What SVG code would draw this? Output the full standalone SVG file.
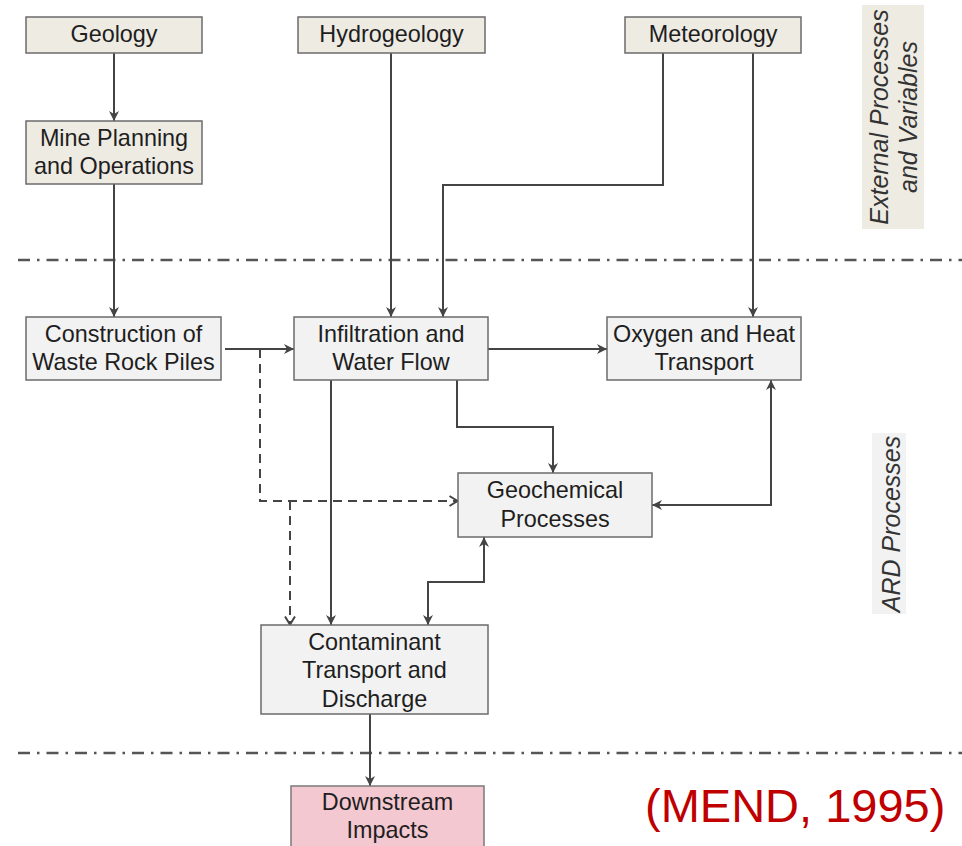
<svg xmlns="http://www.w3.org/2000/svg" width="962" height="846" viewBox="0 0 962 846">
<style>
.ext rect{fill:#eeebe3;stroke:#6b6b6b;stroke-width:1.5}
.ard rect{fill:#f2f2f2;stroke:#6b6b6b;stroke-width:1.5}
.imp rect{fill:#f4c8d1;stroke:#7a7a7a;stroke-width:1.5}
text{font-family:"Liberation Sans",Arial,sans-serif;fill:#1e1e1e}
.n{font-size:23.4px;text-anchor:middle}
.lab{font-size:25px;font-style:italic;text-anchor:middle;fill:#333}
.c path{fill:none;stroke:#444;stroke-width:2}
.c .s{marker-end:url(#ah)}
.c .d{stroke-dasharray:9 6;marker-end:url(#oh)}
.c .b{marker-start:url(#ah);marker-end:url(#ah)}
.sep{stroke:#555;stroke-width:2.5;stroke-dasharray:12 7 2.5 7;fill:none}
</style>
<defs>
<marker id="ah" markerWidth="12" markerHeight="12" refX="11" refY="6" orient="auto-start-reverse" markerUnits="userSpaceOnUse"><path d="M1,1 L11,6 L1,11 L4,6 z" fill="#444"/></marker>
<marker id="oh" markerWidth="12" markerHeight="12" refX="10.5" refY="6" orient="auto" markerUnits="userSpaceOnUse"><path d="M2,1 L10,6 L2,11" fill="none" stroke="#444" stroke-width="2"/></marker>
</defs>
<rect width="962" height="846" fill="#fff"/>
<g id="separators">
<path class="sep" d="M18,260 H962"/>
<path class="sep" d="M18,753 H962"/>
</g>
<g id="label-external">
<rect x="862" y="5" width="62" height="224" fill="#eeebe3"/>
<text class="lab" transform="translate(888,117) rotate(-90)">External Processes</text>
<text class="lab" transform="translate(917,117) rotate(-90)">and Variables</text>
</g>
<g id="label-ard">
<rect x="872" y="433" width="34" height="181" fill="#f2f2f2"/>
<text class="lab" transform="translate(900,524) rotate(-90)">ARD Processes</text>
</g>
<g class="c" id="connectors">
<path class="s" d="M114,53 V121"/>
<path class="s" d="M114,184 V317"/>
<path class="s" d="M391,53 V317"/>
<path class="s" d="M663,53 V185 H443 V317"/>
<path class="s" d="M753,53 V317"/>
<path class="s" d="M225,349 H294"/>
<path class="s" d="M488,349 H607"/>
<path class="d" d="M260,349 V501 H458"/>
<path class="d" d="M290,501 V625"/>
<path class="s" d="M331,380 V625"/>
<path class="s" d="M457,380 V427 H553 V473"/>
<path class="b" d="M771,380 V505 H652"/>
<path class="b" d="M484,537 V582 H428 V625"/>
<path class="s" d="M370,714 V786"/>
</g>
<g id="geology" class="ext"><rect x="26" y="17" width="176" height="36"/><text class="n" x="114" y="42">Geology</text></g>
<g id="hydrogeology" class="ext"><rect x="298" y="17" width="187" height="36"/><text class="n" x="391.5" y="42">Hydrogeology</text></g>
<g id="meteorology" class="ext"><rect x="625" y="17" width="176" height="36"/><text class="n" x="713" y="42">Meteorology</text></g>
<g id="mine-planning" class="ext"><rect x="26" y="121" width="176" height="63"/><text class="n" x="114" y="146">Mine Planning</text><text class="n" x="114" y="174">and Operations</text></g>
<g id="construction" class="ard"><rect x="26" y="317" width="195" height="63"/><text class="n" x="123.5" y="342">Construction of</text><text class="n" x="123.5" y="370">Waste Rock Piles</text></g>
<g id="infiltration" class="ard"><rect x="294" y="317" width="194" height="63"/><text class="n" x="391" y="342">Infiltration and</text><text class="n" x="391" y="370">Water Flow</text></g>
<g id="oxygen" class="ard"><rect x="607" y="317" width="194" height="63"/><text class="n" x="704" y="342">Oxygen and Heat</text><text class="n" x="704" y="370">Transport</text></g>
<g id="geochemical" class="ard"><rect x="458" y="473" width="194" height="64"/><text class="n" x="555" y="498">Geochemical</text><text class="n" x="555" y="527">Processes</text></g>
<g id="contaminant" class="ard"><rect x="261" y="625" width="227" height="89"/><text class="n" x="374.5" y="650">Contaminant</text><text class="n" x="374.5" y="678">Transport and</text><text class="n" x="374.5" y="707">Discharge</text></g>
<g id="downstream" class="imp"><rect x="291" y="786" width="193" height="64"/><text class="n" x="387.5" y="810">Downstream</text><text class="n" x="387.5" y="838">Impacts</text></g>
<text x="645" y="822" style="font-size:47px;fill:#c00000">(MEND, 1995)</text>
</svg>
